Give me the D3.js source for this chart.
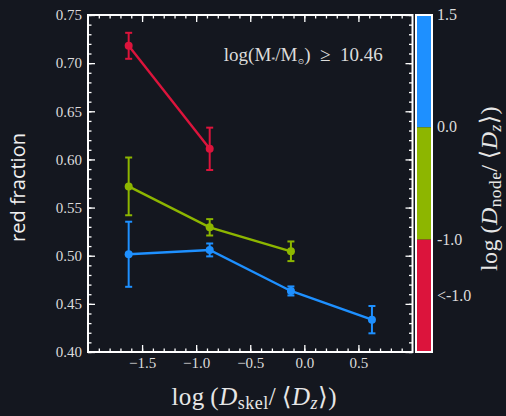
<!DOCTYPE html>
<html>
<head>
<meta charset="utf-8">
<script src="https://cdn.jsdelivr.net/npm/d3@7"></script>
<style>
  html, body { margin: 0; padding: 0; background: #14171f; }
  svg { display: block; }
  .tick text { font-family: "Liberation Serif", "DejaVu Serif", serif; }
</style>
</head>
<body>
<script>
// Red fraction against log(D_skel/<D_z>), split by log(D_node/<D_z>) bin
const xTicks = [-1.5, -1.0, -0.5, 0.0, 0.5];
const yTicks = [0.40, 0.45, 0.50, 0.55, 0.60, 0.65, 0.70, 0.75];

// highest node-distance bin (0.0 .. 1.5)
const blueX = [-1.624, -0.875, -0.124, 0.625];
const blueY = [0.5015, 0.506, 0.4634, 0.4336];
const blueErr = [0.0338, 0.0067, 0.0047, 0.0142];

// middle bin (-1.0 .. 0.0)
const greenX = [-1.624, -0.875, -0.124];
const greenY = [0.572, 0.5295, 0.5046];
const greenErr = [0.030, 0.0085, 0.0102];

// lowest bin (< -1.0)
const redX = [-1.624, -0.875];
const redY = [0.718, 0.611];
const redErr = [0.0135, 0.022];

// colour bar bin labels (top to bottom)
const cbarEdgeLabels = ["1.5", "0.0", "-1.0"];
const cbarLowLabel = "<-1.0";

const W = 506, H = 416;
const margin = { left: 88, top: 15, right: 93.5, bottom: 64 };
const pw = W - margin.left - margin.right;
const ph = H - margin.top - margin.bottom;

const bg = "#14171f";
const fg = "#ffffff";
const txt = "#dcdcdc";
const colors = { blue: "#1e90ff", green: "#8db600", red: "#dc143c" };
const serif = "Liberation Serif, DejaVu Serif, serif";

const svg = d3.select("body").append("svg").attr("width", W).attr("height", H);
svg.append("rect").attr("width", W).attr("height", H).attr("fill", bg);

const g = svg.append("g").attr("transform", `translate(${margin.left},${margin.top})`);

const x = d3.scaleLinear().domain([-2, 1]).range([0, pw]);
const y = d3.scaleLinear().domain([0.40, 0.75]).range([ph, 0]);

const xMinor = d3.range(-19, 10).map(i => i / 10);
const yMinor = d3.range(40, 76).map(i => i / 100);

function styleAxis(sel, showText) {
  sel.select(".domain").remove();
  sel.selectAll(".tick line").attr("stroke", fg).attr("stroke-width", 1.3);
  sel.selectAll(".tick text")
    .attr("fill", txt)
    .style("font-size", "15px")
    .style("display", showText ? null : "none");
}

const minus = v => d3.format(".1f")(v).replace("-", "\u2212");

// minor ticks on all four sides, pointing inward
g.append("g").attr("transform", `translate(0,${ph})`)
  .call(d3.axisBottom(x).tickValues(xMinor).tickSize(-3.5).tickFormat(""))
  .call(s => styleAxis(s, false));
g.append("g")
  .call(d3.axisTop(x).tickValues(xMinor).tickSize(-3.5).tickFormat(""))
  .call(s => styleAxis(s, false));
g.append("g")
  .call(d3.axisLeft(y).tickValues(yMinor).tickSize(-3.5).tickFormat(""))
  .call(s => styleAxis(s, false));
g.append("g").attr("transform", `translate(${pw},0)`)
  .call(d3.axisRight(y).tickValues(yMinor).tickSize(-3.5).tickFormat(""))
  .call(s => styleAxis(s, false));

// major ticks
g.append("g").attr("transform", `translate(0,${ph})`)
  .call(d3.axisBottom(x).tickValues(xTicks).tickSize(-7).tickPadding(5).tickFormat(minus))
  .call(s => styleAxis(s, true));
g.append("g")
  .call(d3.axisTop(x).tickValues(xTicks).tickSize(-7).tickFormat(""))
  .call(s => styleAxis(s, false));
g.append("g")
  .call(d3.axisLeft(y).tickValues(yTicks).tickSize(-7).tickPadding(6).tickFormat(d3.format(".2f")))
  .call(s => styleAxis(s, true));
g.append("g").attr("transform", `translate(${pw},0)`)
  .call(d3.axisRight(y).tickValues(yTicks).tickSize(-7).tickFormat(""))
  .call(s => styleAxis(s, false));

// frame
g.append("rect").attr("width", pw).attr("height", ph)
  .attr("fill", "none").attr("stroke", fg).attr("stroke-width", 2);

// series
function drawSeries(xs, ys, es, color) {
  const pts = xs.map((v, i) => ({ x: v, y: ys[i], e: es[i] }));
  const line = d3.line().x(d => x(d.x)).y(d => y(d.y));
  g.append("path").datum(pts).attr("d", line)
    .attr("fill", "none").attr("stroke", color).attr("stroke-width", 2.4);
  const eb = g.append("g").selectAll("g").data(pts).join("g");
  eb.append("line")
    .attr("x1", d => x(d.x)).attr("x2", d => x(d.x))
    .attr("y1", d => y(d.y - d.e)).attr("y2", d => y(d.y + d.e))
    .attr("stroke", color).attr("stroke-width", 2);
  [1, -1].forEach(sgn => {
    eb.append("line")
      .attr("x1", d => x(d.x) - 3.5).attr("x2", d => x(d.x) + 3.5)
      .attr("y1", d => y(d.y + sgn * d.e)).attr("y2", d => y(d.y + sgn * d.e))
      .attr("stroke", color).attr("stroke-width", 2);
  });
  eb.append("circle").attr("cx", d => x(d.x)).attr("cy", d => y(d.y))
    .attr("r", 4).attr("fill", color);
}
drawSeries(redX, redY, redErr, colors.red);
drawSeries(greenX, greenY, greenErr, colors.green);
drawSeries(blueX, blueY, blueErr, colors.blue);

// stellar-mass annotation
const ann = g.append("text")
  .attr("x", x(0.725)).attr("y", 46)
  .attr("text-anchor", "end")
  .attr("fill", txt)
  .style("font-family", serif)
  .style("font-size", "19px");
ann.append("tspan").text("log(M");
ann.append("tspan").attr("dy", 2).style("font-size", "8px").text("*");
ann.append("tspan").attr("dy", -2).text("/M");
ann.append("tspan").attr("dy", 3).style("font-size", "8px").text("\u2299");
ann.append("tspan").attr("dy", -3).text(")\u2002\u2265\u2002" + "10.46");

// colour bar
const cbX = margin.left + pw + 3.5;
const cbW = 16;
const cb = svg.append("g").attr("transform", `translate(${cbX},${margin.top})`);
const binColors = [colors.blue, colors.green, colors.red];
const cy = d3.scaleLinear().domain([0, binColors.length]).range([0, ph]);
cb.selectAll("rect.bin").data(binColors).join("rect")
  .attr("class", "bin")
  .attr("x", 0).attr("width", cbW)
  .attr("y", (d, i) => cy(i)).attr("height", (d, i) => cy(i + 1) - cy(i))
  .attr("fill", d => d);
cb.append("rect").attr("x", 0).attr("y", 0).attr("width", cbW).attr("height", ph)
  .attr("fill", "none").attr("stroke", fg).attr("stroke-width", 2);

const cbLabels = cbarEdgeLabels.map((t, i) => ({ t, p: i }))
  .concat([{ t: cbarLowLabel, p: binColors.length - 0.5 }]);
cb.selectAll("text.cbl").data(cbLabels).join("text")
  .attr("class", "cbl")
  .attr("x", cbW + 5).attr("y", d => cy(d.p))
  .attr("dy", "0.32em")
  .attr("fill", txt)
  .style("font-family", serif)
  .style("font-size", "16px")
  .text(d => d.t);

// axis titles
svg.append("text")
  .attr("transform", `translate(25,${margin.top + ph / 2 + 4}) rotate(-90)`)
  .attr("text-anchor", "middle")
  .attr("fill", "#f0f0f0")
  .style("font-family", "Open Sans, Noto Sans, sans-serif")
  .style("font-size", "20px")
  .text("red fraction");

function mathLabel(sel, sub) {
  sel.style("font-family", serif)
    .attr("fill", "#e6e6e6");
  sel.append("tspan").text("log\u2009(");
  sel.append("tspan").style("font-style", "italic").text("D");
  sel.append("tspan").attr("dy", 4).style("font-size", "0.72em").text(sub);
  sel.append("tspan").attr("dy", -4).text("/\u2009\u27E8");
  sel.append("tspan").style("font-style", "italic").text("D");
  sel.append("tspan").attr("dy", 4).style("font-size", "0.72em").style("font-style", "italic").text("z");
  sel.append("tspan").attr("dy", -4).text("\u27E9)");
}

svg.append("text")
  .attr("x", margin.left + pw / 2 + 4).attr("y", 405)
  .attr("text-anchor", "middle")
  .style("font-size", "25px")
  .style("letter-spacing", "0.5px")
  .call(mathLabel, "skel");

svg.append("text")
  .attr("transform", `translate(497,${margin.top + ph / 2 + 5}) rotate(-90)`)
  .attr("text-anchor", "middle")
  .style("font-size", "24px")
  .style("letter-spacing", "0.5px")
  .call(mathLabel, "node");
</script>
</body>
</html>
